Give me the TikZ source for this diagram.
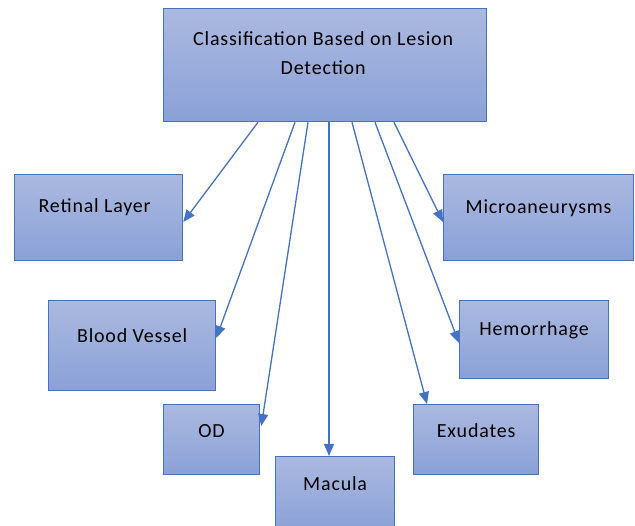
\documentclass[tikz,border=0pt]{standalone}
\usepackage{fontspec}
\setmainfont{Carlito}
\usetikzlibrary{arrows.meta,calc}
\definecolor{bordc}{HTML}{4472C4}
\definecolor{topc}{HTML}{ABB9E0}
\definecolor{botc}{HTML}{8AA1D7}
\begin{document}
\begin{tikzpicture}[x=1pt,y=-1pt,
  box/.style={draw=bordc, line width=1.3pt, top color=topc, bottom color=botc, inner sep=0pt, anchor=north west},
  lbl/.style={font=\fontsize{20}{29}\selectfont\addfontfeature{LetterSpace=4}, align=center, inner sep=0pt, text=black},
  arr/.style={draw=bordc, line width=1.3pt, -{Triangle[length=12pt,width=10pt]}}]
\useasboundingbox (0,0) rectangle (635,526);
\node[box, minimum width=323pt, minimum height=113pt,
  label={[lbl, yshift=12pt, xshift=-2pt]center:Classification Based on Lesion\\Detection}] (top) at (163,8) {};
\node[box, minimum width=168pt, minimum height=86pt,
  label={[lbl, yshift=10pt, xshift=-4pt]center:Retinal Layer}] (ret) at (14,174) {};
\node[box, minimum width=190pt, minimum height=86pt,
  label={[lbl, yshift=9pt]center:Microaneurysms}] (mic) at (443,174) {};
\node[box, minimum width=167pt, minimum height=90pt,
  label={[lbl, yshift=10pt]center:Blood Vessel}] (bv) at (48,300) {};
\node[box, minimum width=149pt, minimum height=78pt,
  label={[lbl, yshift=9pt]center:Hemorrhage}] (hem) at (459,300) {};
\node[box, minimum width=96pt, minimum height=70pt,
  label={[lbl, yshift=9pt]center:OD}] (od) at (163,404) {};
\node[box, minimum width=125pt, minimum height=70pt,
  label={[lbl, yshift=9pt]center:Exudates}] (exu) at (413,404) {};
\node[box, minimum width=119pt, minimum height=74pt,
  label={[lbl, yshift=10pt]center:Macula}] (mac) at (275,456) {};
\draw[arr] ($(top.south west)+(95,0)$) -- ($(ret.north east)+(0,48)$);
\draw[arr] ($(top.south west)+(132,0)$) -- ($(bv.north east)+(0,38)$);
\draw[arr] ($(top.south west)+(145,0)$) -- ($(od.north east)+(1,22)$);
\draw[arr] ($(top.south west)+(166,0)$) -- ($(mac.north west)+(54,0)$);
\draw[arr] ($(top.south west)+(189,0)$) -- ($(exu.north west)+(14,0)$);
\draw[arr] ($(top.south west)+(212,0)$) -- ($(hem.north west)+(0,43)$);
\draw[arr] ($(top.south west)+(231,0)$) -- ($(mic.north west)+(0,48)$);
\end{tikzpicture}
\end{document}
